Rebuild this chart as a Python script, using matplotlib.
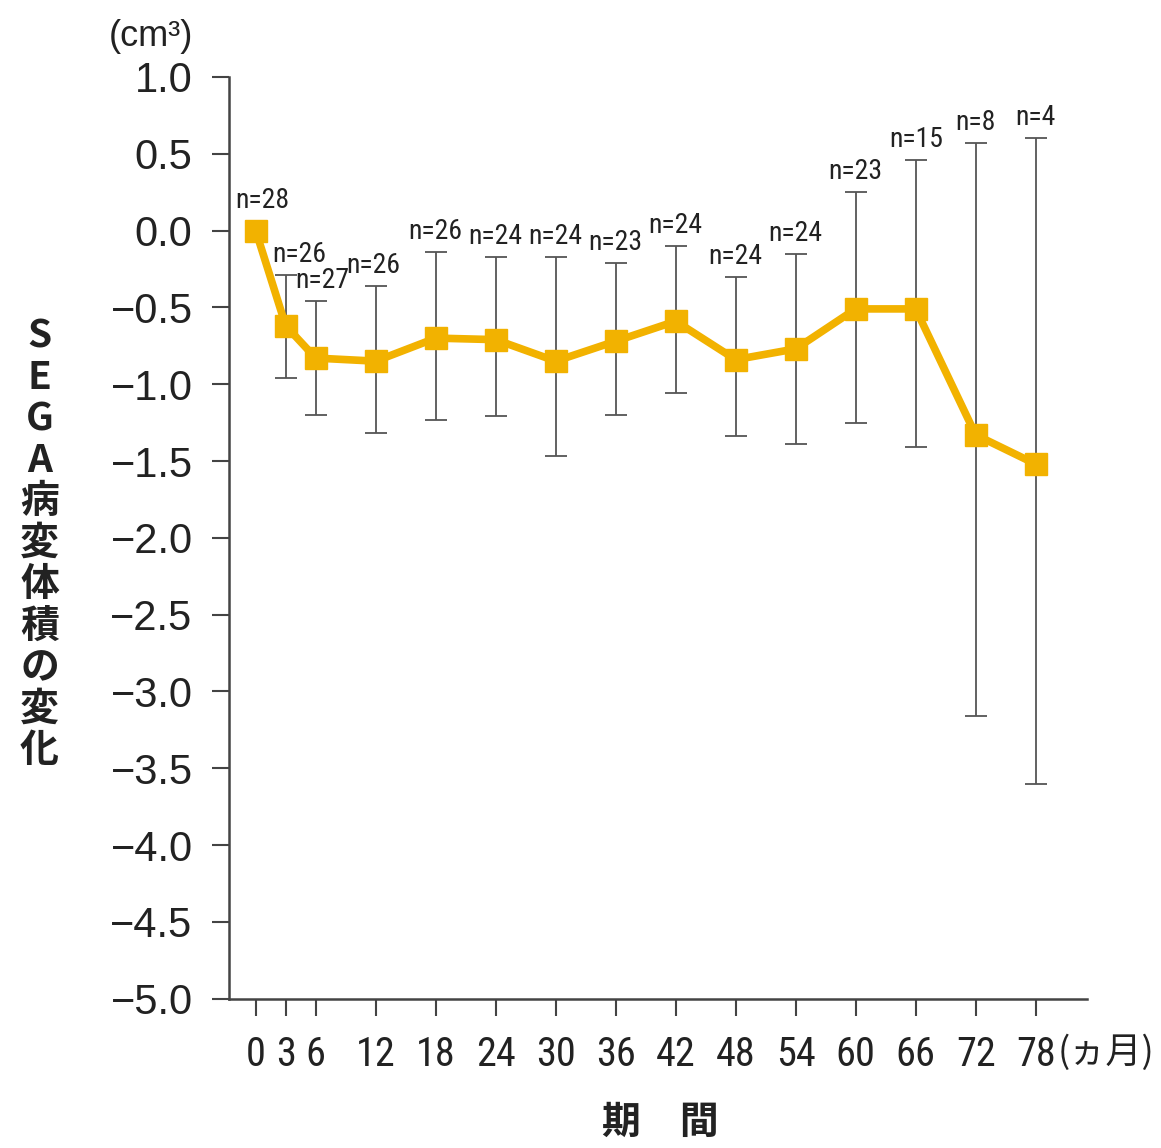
import matplotlib
matplotlib.use("Agg")
import matplotlib.pyplot as plt
from matplotlib import font_manager as fm

# dados
meses = [0, 3, 6, 12, 18, 24, 30, 36, 42, 48, 54, 60, 66, 72, 78]
media = [0.0, -0.62, -0.83, -0.85, -0.70, -0.71, -0.85, -0.72, -0.59,
         -0.84, -0.77, -0.51, -0.51, -1.33, -1.52]
limite_sup = [None, -0.29, -0.46, -0.36, -0.14, -0.17, -0.17, -0.21, -0.10,
              -0.30, -0.15, 0.25, 0.46, 0.57, 0.60]
limite_inf = [None, -0.96, -1.20, -1.32, -1.23, -1.21, -1.47, -1.20, -1.06,
              -1.34, -1.39, -1.25, -1.41, -3.16, -3.60]
n_pacientes = [28, 26, 27, 26, 26, 24, 24, 23, 24, 24, 24, 23, 15, 8, 4]
yticks = [1.0, 0.5, 0.0, -0.5, -1.0, -1.5, -2.0, -2.5, -3.0, -3.5, -4.0, -4.5, -5.0]

COR = "#F2B200"
CINZA = "#555555"

# procura uma fonte estreita instalada
instaladas = {f.name for f in fm.fontManager.ttflist}
estreita = "DejaVu Sans"
for cand in ["Liberation Sans Narrow", "Roboto Condensed", "Archivo Narrow",
             "PT Sans Narrow", "Arimo", "Roboto"]:
    if cand in instaladas:
        estreita = cand
        break
NARROW = [estreita, "DejaVu Sans"]
SANS = ["Liberation Sans", "DejaVu Sans"]
JP = ["Noto Sans CJK JP", "DejaVu Sans"]

fig = plt.figure(figsize=(11.61, 11.48), dpi=100)
ax = fig.add_axes([0.197, 0.130, 0.739, 0.803])

# barras de erro (só onde existem)
xe = [m for m, s in zip(meses, limite_sup) if s is not None]
ye = [v for v, s in zip(media, limite_sup) if s is not None]
lo = [v - i for v, i, s in zip(media, limite_inf, limite_sup) if s is not None]
hi = [s - v for v, s in zip(media, limite_sup) if s is not None]
ax.errorbar(xe, ye, yerr=[lo, hi], fmt="none", ecolor=CINZA, elinewidth=1.3,
            capsize=8, capthick=1.3, zorder=2)

ax.plot(meses, media, color=COR, lw=5.5, marker="s", markersize=16,
        markeredgecolor=COR, zorder=3)

# rótulos n=
desloc_x = {0: 5, 3: 10, 6: 5, 12: -2}
for m, v, s, n in zip(meses, media, limite_sup, n_pacientes):
    topo = v if s is None else s
    dy = 12 if s is None else 5
    ax.annotate(f"n={n}", (m, topo), xytext=(desloc_x.get(m, 0), dy),
                textcoords="offset points", ha="center", va="bottom",
                fontsize=20, family=NARROW, color="#222222")

ax.set_xlim(-2.7, 83.1)
ax.set_ylim(-5.0, 1.0)
ax.set_xticks(meses)
ax.set_xticklabels([str(m) for m in meses], family=NARROW, fontsize=29)
ax.set_yticks(yticks)
ax.set_yticklabels([f"{t:.1f}".replace("-", "\u2212") for t in yticks],
                   family=SANS, fontsize=30)
ax.tick_params(axis="both", direction="out", length=12, width=1.5,
               color="#444444", labelcolor="#222222")
ax.tick_params(axis="y", pad=14)
ax.tick_params(axis="x", pad=14)

for lado in ["top", "right"]:
    ax.spines[lado].set_visible(False)
for lado in ["left", "bottom"]:
    ax.spines[lado].set_color("#444444")
    ax.spines[lado].set_linewidth(1.8)

fig.text(0.130, 0.968, "(cm³)", fontsize=26, family=SANS,
         ha="center", va="center", color="#222222")
fig.text(0.953, 0.083, "(ヵ月)", fontsize=26, family=JP, ha="center", va="center",
         color="#222222")
fig.text(0.569, 0.022, "期　間", fontsize=28, family=JP, weight="bold",
         ha="center", va="center", color="#222222")
fig.text(0.034, 0.527, "\n".join("SEGA病変体積の変化"), fontsize=28, family=JP,
         weight="bold", ha="center", va="center", linespacing=1.08,
         color="#222222")

fig.savefig("out.png", dpi=100)
